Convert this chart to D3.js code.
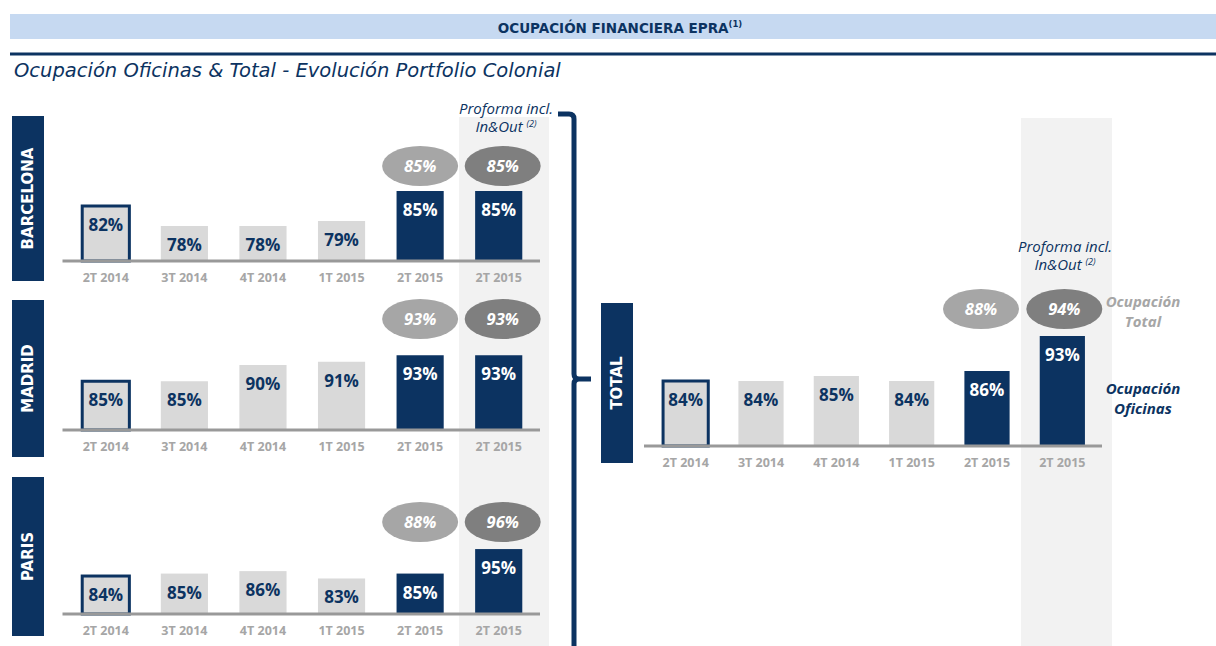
<!DOCTYPE html>
<html>
<head>
<meta charset="utf-8">
<title>Ocupación Financiera EPRA</title>
<style>
  body { margin: 0; background: #fff; }
  svg text { font-family: "Open Sans", sans-serif; }
  .tick text { font-weight: 700; font-size: 12.5px; fill: #a6a6a6; font-family: "Open Sans", sans-serif; }
  .domain { stroke: #999; stroke-width: 3; }
</style>
</head>
<body>
<svg width="1216" height="646"></svg>
<script src="https://d3js.org/d3.v7.min.js"></script>
<script>
// data
const quarters = ["2T 2014", "3T 2014", "4T 2014", "1T 2015", "2T 2015", "2T 2015"];
const barcelona = [82, 78, 78, 79, 85, 85];
const barcelonaTotal = [85, 85];
const madrid = [85, 85, 90, 91, 93, 93];
const madridTotal = [93, 93];
const paris = [84, 85, 86, 83, 85, 95];
const parisTotal = [88, 96];
const total = [84, 84, 85, 84, 86, 93];
const totalTotal = [88, 94];

const navy = "#0c3361";
const barGrey = "#d9d9d9";
const bubbleColors = ["#a6a6a6", "#7f7f7f"];

const svg = d3.select("svg");

// header band
svg.append("rect").attr("x", 10).attr("y", 14).attr("width", 1206).attr("height", 25).attr("fill", "#c6d9f1");
const head = svg.append("text").attr("x", 620).attr("y", 33).attr("text-anchor", "middle")
    .attr("fill", navy).style("font-family", "DejaVu Sans").style("font-weight", 700).style("font-size", "13.5px");
head.append("tspan").text("OCUPACIÓN FINANCIERA EPRA");
head.append("tspan").attr("dy", -6).style("font-size", "8.5px").text("(1)");

svg.append("rect").attr("x", 10).attr("y", 52.5).attr("width", 1206).attr("height", 3).attr("fill", navy);

svg.append("text").attr("x", 14).attr("y", 77).attr("fill", navy)
    .style("font-family", "DejaVu Sans").style("font-style", "italic").style("font-size", "19.5px")
    .text("Ocupación Oficinas & Total - Evolución Portfolio Colonial");

// proforma shaded columns
svg.append("rect").attr("x", 459).attr("y", 117).attr("width", 90).attr("height", 529).attr("fill", "#f2f2f2");
svg.append("rect").attr("x", 1021).attr("y", 118).attr("width", 91).attr("height", 528).attr("fill", "#f2f2f2");

function proformaLabel(cx, y) {
    const g = svg.append("g").attr("fill", navy).style("font-style", "italic").style("font-size", "15px");
    g.append("text").attr("x", cx).attr("y", y).attr("text-anchor", "middle").text("Proforma incl.");
    const t = g.append("text").attr("x", cx).attr("y", y + 18).attr("text-anchor", "middle");
    t.append("tspan").text("In&Out ");
    t.append("tspan").attr("dy", -5).style("font-size", "9px").text("(2)");
}
proformaLabel(506, 114);
proformaLabel(1065, 252);

const leftRange = [66.5, 538];
const rightRange = [648, 1100];

const panels = [
    { name: "BARCELONA", values: barcelona, totals: barcelonaTotal, range: leftRange, boxX: 12, box: [116, 281], axisY: 261, base: 71, k: 5, bubbleY: 166, bubbleDx: [0, 4] },
    { name: "MADRID", values: madrid, totals: madridTotal, range: leftRange, boxX: 12, box: [300, 457], axisY: 430, base: 70, k: 3.25, bubbleY: 319, bubbleDx: [0, 4] },
    { name: "PARIS", values: paris, totals: parisTotal, range: leftRange, boxX: 12, box: [477, 636], axisY: 614, base: 68.5, k: 2.45, bubbleY: 522, bubbleDx: [0, 4] },
    { name: "TOTAL", values: total, totals: totalTotal, range: rightRange, boxX: 601, box: [303, 463], axisY: 446, base: 71, k: 5, bubbleY: 309, bubbleDx: [-6, 2] }
];

panels.forEach(p => {
    const x = d3.scaleBand().domain(d3.range(quarters.length)).range(p.range)
        .paddingInner(0.4).paddingOuter(0.2);
    const y = d3.scaleLinear().domain([p.base, 100]).range([p.axisY, p.axisY - (100 - p.base) * p.k]);
    const g = svg.append("g");

    // city label box
    g.append("rect").attr("x", p.boxX).attr("y", p.box[0]).attr("width", 32).attr("height", p.box[1] - p.box[0]).attr("fill", navy);
    g.append("text")
        .attr("transform", `translate(${p.boxX + 21},${(p.box[0] + p.box[1]) / 2}) rotate(-90)`)
        .attr("text-anchor", "middle").attr("fill", "#fff")
        .style("font-family", "DejaVu Sans").style("font-weight", 700).style("font-size", "15px")
        .text(p.name);

    g.selectAll("rect.bar").data(p.values).join("rect").attr("class", "bar")
        .attr("x", (d, i) => x(i)).attr("width", x.bandwidth())
        .attr("y", d => y(d)).attr("height", d => p.axisY - y(d))
        .attr("fill", (d, i) => i >= 4 ? navy : barGrey)
        .attr("stroke", (d, i) => i === 0 ? navy : "none")
        .attr("stroke-width", 3);

    g.selectAll("text.val").data(p.values).join("text").attr("class", "val")
        .attr("x", (d, i) => x(i) + x.bandwidth() / 2).attr("y", d => y(d) + 25)
        .attr("text-anchor", "middle").attr("fill", (d, i) => i >= 4 ? "#fff" : navy)
        .style("font-weight", 700).style("font-size", "17px")
        .text(d => d + "%");

    const axis = g.append("g").attr("transform", `translate(0,${p.axisY})`)
        .call(d3.axisBottom(x).tickSize(0).tickPadding(12).tickFormat(i => quarters[i]));
    axis.select(".domain").attr("d", `M${p.range[0] - 4},0H${p.range[1] + 2}`);

    // bubbles for total occupancy
    p.totals.forEach((v, j) => {
        const cx = x(4 + j) + x.bandwidth() / 2 + p.bubbleDx[j];
        g.append("ellipse").attr("cx", cx).attr("cy", p.bubbleY).attr("rx", 38).attr("ry", 20).attr("fill", bubbleColors[j]);
        g.append("text").attr("x", cx).attr("y", p.bubbleY + 6).attr("text-anchor", "middle")
            .attr("fill", "#fff").style("font-style", "italic").style("font-weight", 700).style("font-size", "16.5px")
            .text(v + "%");
    });
});

// bracket joining cities to total
svg.append("path")
    .attr("d", "M558,114 H569 Q574,114 574,119 V374 Q574,379 579,379 H591 M579,379 Q574,379 574,384 V646")
    .attr("fill", "none").attr("stroke", navy).attr("stroke-width", 5);

// legend on the right
function legend(lines, color, y) {
    lines.forEach((s, i) => {
        svg.append("text").attr("x", 1143).attr("y", y + i * 19.5).attr("text-anchor", "middle")
            .attr("fill", color).style("font-style", "italic").style("font-weight", 700).style("font-size", "15px")
            .text(s);
    });
}
legend(["Ocupación", "Total"], "#a6a6a6", 307);
legend(["Ocupación", "Oficinas"], navy, 394);
</script>
</body>
</html>
